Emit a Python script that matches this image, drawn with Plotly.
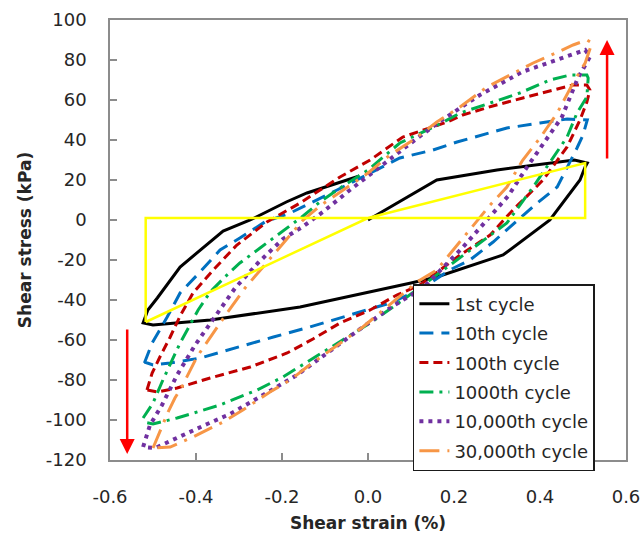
import plotly.graph_objects as go

# ---- data (strain %, stress kPa) ----
names = ["1st cycle", "10th cycle", "100th cycle", "1000th cycle", "10,000th cycle", "30,000th cycle"]

x_1st = [0, 0.08, 0.16, 0.3, 0.48, 0.51, 0.505, 0.493, 0.423, 0.314, 0.16, 0.1, -0.05, -0.158, -0.367, -0.5, -0.523,
         -0.512, -0.49, -0.437, -0.337, -0.274, -0.19, -0.142, -0.02]
y_1st = [0, 10, 20, 25, 30, 28.5, 26.5, 20, 0, -17.5, -28.5, -31.5, -38.5, -43.5, -50, -52.5, -51.5,
         -45, -39, -23.5, -5.5, 0, 9, 13.5, 22]

x_10th = [-0.52, -0.502, -0.467, -0.437, -0.395, -0.344, -0.298, -0.24, -0.181, -0.072, 0.074, 0.151, 0.207, 0.323, 0.4,
          0.463, 0.51, 0.5, 0.486, 0.44, 0.388, 0.342, 0.291, 0.237, 0.19, 0.128, 0.051, -0.042, -0.135, -0.22, -0.267,
          -0.39, -0.46, -0.5, -0.52]
y_10th = [-71.5, -61.5, -48.5, -36.5, -27, -15, -9, -1, 3.5, 15, 31, 35, 39, 46, 48.5,
          50.5, 50, 42.5, 36, 16.5, 7.5, -1.5, -11, -20, -25, -34, -41.5, -47.5, -53.5, -58.5, -61.5,
          -69, -71.5, -72.5, -71]

x_100th = [-0.514, -0.502, -0.484, -0.46, -0.437, -0.407, -0.36, -0.305, -0.235, -0.158, -0.065, 0.005, 0.081, 0.184,
           0.22, 0.29, 0.36, 0.43, 0.477, 0.509, 0.516, 0.509, 0.493, 0.463, 0.407, 0.377, 0.337, 0.284, 0.214, 0.121,
           0.067, 0.005, -0.065, -0.128, -0.188, -0.274, -0.367, -0.444, -0.49, -0.514]
y_100th = [-85, -76.5, -68.5, -58.5, -48, -36.5, -25, -12.5, -1, 8.5, 21.5, 30, 41.5, 49,
           52.5, 57, 61, 65, 67.5, 67.5, 65, 59, 50, 36.5, 20, 13.5, 5, -7.5, -17.5, -32.5,
           -37.5, -45, -51.5, -59.5, -66.5, -73.5, -79, -84, -86, -85]

x_1000th = [-0.523, -0.5, -0.477, -0.437, -0.395, -0.367, -0.333, -0.298, -0.251, -0.188, -0.151, -0.112, -0.058, 0,
            0.074, 0.167, 0.214, 0.284, 0.353, 0.423, 0.47, 0.509, 0.512, 0.509, 0.486, 0.463, 0.384, 0.323, 0.244,
            0.151, 0.081, 0.005, -0.151, -0.198, -0.258, -0.344, -0.444, -0.5, -0.523]
y_1000th = [-99, -91.5, -80, -61.5, -45, -36, -28.5, -21.5, -14, -4, 2, 9, 17, 25,
            38.5, 48, 53.5, 58.5, 63.5, 70, 72.5, 72.5, 71, 61.5, 53.5, 41.5, 16.5, -1.5, -14,
            -28.5, -40, -51.5, -72.5, -78.5, -85, -92.5, -99, -102, -101]

x_10000th = [-0.523, -0.507, -0.479, -0.444, -0.402, -0.356, -0.309, -0.256, -0.198, -0.153, -0.105, -0.042, 0.023,
             0.109, 0.172, 0.26, 0.358, 0.453, 0.505, 0.516, 0.488, 0.451, 0.416, 0.37, 0.326, 0.291, 0.219, 0.128,
             0.058, -0.012, -0.165, -0.256, -0.321, -0.374, -0.421, -0.472, -0.495, -0.523]
y_10000th = [-113.5, -102.5, -92.5, -77.5, -62.5, -48.5, -34, -21.5, -9.5, -3.5, 4, 15, 26,
             40, 50, 62.5, 74, 81, 85, 81.5, 71, 51.5, 41, 26.5, 12, 3.5, -14, -34,
             -43, -53.5, -77.5, -89, -97, -102, -106.5, -111.5, -114, -113.5]

x_30000th = [-0.5, -0.488, -0.465, -0.449, -0.433, -0.398, -0.363, -0.328, -0.286, -0.244, -0.198, -0.151, -0.112,
             -0.058, 0, 0.051, 0.105, 0.16, 0.214, 0.277, 0.323, 0.384, 0.442, 0.477, 0.509, 0.521, 0.505, 0.477,
             0.44, 0.4, 0.36, 0.323, 0.284, 0.237, 0.198, 0.16, 0.114, 0.044, -0.012, -0.142, -0.181, -0.228,
             -0.291, -0.337, -0.407, -0.46, -0.5]
y_30000th = [-114, -107.5, -96, -89, -83.5, -68.5, -57.5, -46.5, -34, -23.5, -12, 0, 7,
             15, 23.5, 32.5, 40, 49, 56.5, 66.5, 71.5, 78.5, 84, 87.5, 90, 88.5, 78.5, 68.5,
             53.5, 41, 30, 16.5, 7.5, -5, -15, -25, -31, -43.5, -53.5, -73.5, -80, -86,
             -95, -101, -108.5, -113.5, -114]

# secant-modulus outline (yellow)
x_secant = [-0.517, -0.517, 0.505, 0.505, 0, -0.517]
y_secant = [-51, 1, 1, 28.5, 1, -51]

x_ticks = [-0.6, -0.4, -0.2, 0.0, 0.2, 0.4, 0.6]
x_ticklabels = ["-0.6", "-0.4", "-0.2", "0.0", "0.2", "0.4", "0.6"]
y_ticks = [-120, -100, -80, -60, -40, -20, 0, 20, 40, 60, 80, 100]
y_ticklabels = ["-120", "-100", "-80", "-60", "-40", "-20", "0", "20", "40", "60", "80", "100"]

xs = [x_1st, x_10th, x_100th, x_1000th, x_10000th, x_30000th]
ys = [y_1st, y_10th, y_100th, y_1000th, y_10000th, y_30000th]
colors = ["#000000", "#0070C0", "#C00000", "#00B050", "#7030A0", "#F79646"]
dashes = ["solid", "14px,8px", "9px,5px", "14px,6px,3px,6px", "4px,5px", "20px,8px,3px,8px"]
widths = [3, 3, 3, 3, 4, 3]

FONT = "DejaVu Sans"
TXT = "#262626"

fig = go.Figure()
for i, (nm, xv, yv) in enumerate(zip(names, xs, ys)):
    fig.add_trace(go.Scatter(x=xv, y=yv, mode="lines", name=nm, legendgroup=f"g{i}",
                             line=dict(color=colors[i], dash=dashes[i], width=widths[i])))

fig.add_trace(go.Scatter(x=x_secant, y=y_secant, mode="lines", showlegend=False,
                         line=dict(color="#FFFF00", width=2.5)))

# red arrows
fig.add_annotation(x=0.556, y=90, ax=0.556, ay=30, xref="x", yref="y", axref="x", ayref="y",
                   text="", showarrow=True, arrowhead=2, arrowsize=1.2, arrowwidth=2.5, arrowcolor="#FF0000")
fig.add_annotation(x=-0.56, y=-117, ax=-0.56, ay=-54, xref="x", yref="y", axref="x", ayref="y",
                   text="", showarrow=True, arrowhead=2, arrowsize=1.2, arrowwidth=2.5, arrowcolor="#FF0000")

axis_common = dict(showline=True, linecolor="#8c8c8c", linewidth=1.5, mirror=True, showgrid=False,
                   zeroline=False, ticks="inside", ticklen=7, tickwidth=1.5, tickcolor="#8c8c8c",
                   tickfont=dict(family=FONT, size=18, color=TXT))

fig.update_xaxes(range=[-0.6, 0.6], tickvals=x_ticks, ticktext=x_ticklabels, ticklabelstandoff=20,
                 title=dict(text="<b>Shear strain (%)</b>", font=dict(family=FONT, size=17, color=TXT), standoff=11),
                 automargin=False, **axis_common)
fig.update_yaxes(range=[-120, 100], tickvals=y_ticks, ticktext=y_ticklabels, ticklabelstandoff=18,
                 title=dict(text="<b>Shear stress (kPa)</b>", font=dict(family=FONT, size=17, color=TXT), standoff=10),
                 automargin=False, **axis_common)

fig.update_layout(
    width=642, height=543,
    margin=dict(l=110, r=16, t=20, b=83, autoexpand=False),
    plot_bgcolor="white", paper_bgcolor="white",
    font=dict(family=FONT, size=18, color=TXT),
    legend=dict(x=0.587, y=0.4, xanchor="left", yanchor="top", bgcolor="white",
                bordercolor="#1a1a1a", borderwidth=1.5, traceorder="grouped", tracegroupgap=3,
                font=dict(family=FONT, size=18, color=TXT)),
)

fig.write_html("out.html")
